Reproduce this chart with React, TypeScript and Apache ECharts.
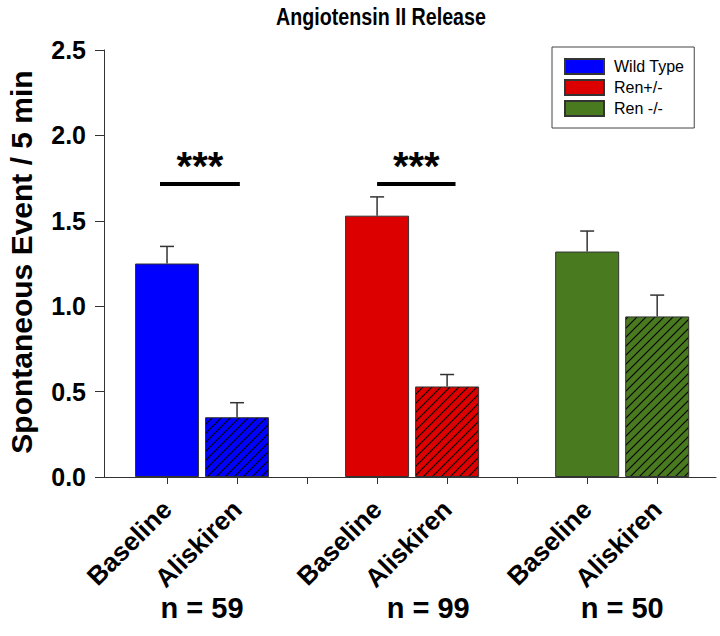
import React, { useEffect, useRef } from "react";
import * as echarts from "echarts";

const groups = ["Wild Type", "Ren+/-", "Ren -/-"];
const groupColors = ["#0000ff", "#dd0000", "#4a7a1f"];
const conditionLabels = ["Baseline", "Aliskiren"];
// x positions of bars (gap positions 3 and 6 are empty)
const barPositions = [
  [1, 2],
  [4, 5],
  [7, 8],
];
const meanValues = [
  [1.25, 0.35],
  [1.53, 0.53],
  [1.32, 0.94],
];
const semValues = [
  [0.1, 0.085],
  [0.11, 0.07],
  [0.12, 0.125],
];
const tickPositions = [1, 2, 3, 4, 5, 6, 7, 8];
const labelPositions = [1, 2, 4, 5, 7, 8];
const yTicks = [0, 0.5, 1.0, 1.5, 2.0, 2.5];
const nLabels = ["n = 59", "n = 99", "n = 50"];
const nPositions = [1.5, 4.73, 7.5];
const sigLines = [
  { x1: 0.9, x2: 2.04, y: 1.715, text: "***" },
  { x1: 4.0, x2: 5.12, y: 1.715, text: "***" },
];

const FONT = '"Liberation Sans", Arial, sans-serif';

function hatch(color: string) {
  const s = 9;
  const c = document.createElement("canvas");
  c.width = s;
  c.height = s;
  const ctx = c.getContext("2d")!;
  ctx.fillStyle = color;
  ctx.fillRect(0, 0, s, s);
  ctx.strokeStyle = "#000";
  ctx.lineWidth = 1.1;
  ctx.beginPath();
  ctx.moveTo(-1, s + 1);
  ctx.lineTo(s + 1, -1);
  ctx.moveTo(-2, 2);
  ctx.lineTo(2, -2);
  ctx.moveTo(s - 2, s + 2);
  ctx.lineTo(s + 2, s - 2);
  ctx.stroke();
  return { image: c, repeat: "repeat" };
}

export default function App() {
  const ref = useRef<HTMLDivElement>(null);
  useEffect(() => {
    document.body.style.margin = "0";
    const chart = echarts.init(ref.current!, null, { renderer: "svg" });

    const barSeries = groups.map((g, gi) => ({
      name: g,
      type: "bar",
      barWidth: 64,
      barGap: "-100%",
      itemStyle: { color: groupColors[gi], borderColor: "#333", borderWidth: 1 },
      data: barPositions[gi].map((x, ci) => ({
        value: [x, meanValues[gi][ci]],
        itemStyle: ci === 1 ? { color: hatch(groupColors[gi]) } : undefined,
      })),
      markLine:
        gi === 0
          ? {
              silent: true,
              symbol: "none",
              lineStyle: { color: "#000", width: 4, type: "solid" },
              label: {
                show: true,
                position: "middle",
                formatter: (p: any) => p.data.name ?? "***",
                fontSize: 40,
                fontWeight: "bold",
                color: "#000",
                fontFamily: FONT,
                distance: -2,
              },
              data: sigLines.map((s) => [
                { coord: [s.x1, s.y], name: s.text },
                { coord: [s.x2, s.y] },
              ]),
            }
          : undefined,
    }));

    const errData: number[][] = [];
    groups.forEach((_, gi) =>
      barPositions[gi].forEach((x, ci) =>
        errData.push([x, meanValues[gi][ci], semValues[gi][ci]])
      )
    );

    const option: any = {
      animation: false,
      grid: { left: 104, right: 4, top: 50, bottom: 159 },
      legend: {
        orient: "vertical",
        left: 552,
        top: 47,
        itemWidth: 39,
        itemHeight: 15,
        itemGap: 4,
        padding: [11, 10, 11, 12],
        borderColor: "#444",
        borderWidth: 1,
        icon: "rect",
        textStyle: { fontSize: 16, fontFamily: FONT, color: "#000", padding: [0, 0, 0, 5] },
        data: groups,
      },
      xAxis: {
        type: "value",
        min: 0.1,
        max: 8.84,
        axisLine: { show: true, lineStyle: { color: "#333", width: 1 } },
        axisTick: { show: true, customValues: tickPositions, length: 7, lineStyle: { color: "#333" } },
        axisLabel: {
          customValues: labelPositions,
          formatter: (v: number) => {
            const idx = barPositions.findIndex((bp) => bp.includes(v));
            if (idx < 0) return "";
            return conditionLabels[barPositions[idx].indexOf(v)];
          },
          rotate: 45,
          margin: 28,
          fontSize: 26,
          fontWeight: "bold",
          fontFamily: FONT,
          color: "#000",
        },
        splitLine: { show: false },
      },
      yAxis: {
        type: "value",
        min: yTicks[0],
        max: yTicks[yTicks.length - 1],
        interval: 0.5,
        axisLine: { show: true, lineStyle: { color: "#333", width: 1 } },
        axisTick: { show: true, length: 9, lineStyle: { color: "#333" } },
        axisLabel: {
          formatter: (v: number) => v.toFixed(1),
          fontSize: 25,
          fontWeight: "bold",
          fontFamily: FONT,
          color: "#000",
          margin: 18,
        },
        splitLine: { show: false },
      },
      series: [
        ...barSeries,
        {
          type: "custom",
          z: 5,
          renderItem: (params: any, api: any) => {
            const x = api.value(0);
            const y = api.value(1);
            const e = api.value(2);
            const p0 = api.coord([x, y]);
            const p1 = api.coord([x, y + e]);
            const style = { stroke: "#333", lineWidth: 1.5 };
            return {
              type: "group",
              children: [
                { type: "line", shape: { x1: p0[0], y1: p0[1], x2: p1[0], y2: p1[1] }, style },
                { type: "line", shape: { x1: p1[0] - 7, y1: p1[1], x2: p1[0] + 7, y2: p1[1] }, style },
              ],
            };
          },
          data: errData,
        },
      ],
      graphic: [
        {
          type: "text",
          x: 381,
          y: 17,
          scaleX: 0.82,
          style: {
            text: "Angiotensin II Release",
            font: `bold 24px ${FONT}`,
            fill: "#000",
            textAlign: "center",
            textVerticalAlign: "middle",
          },
        },
        {
          type: "text",
          x: 21,
          y: 262,
          rotation: Math.PI / 2,
          style: {
            text: "Spontaneous Event / 5 min",
            font: `bold 30px ${FONT}`,
            fill: "#000",
            textAlign: "center",
            textVerticalAlign: "middle",
          },
        },
      ],
    };
    chart.setOption(option);

    const nGraphics = nLabels.map((t, i) => {
      const px = chart.convertToPixel({ gridIndex: 0 }, [nPositions[i], 0]) as number[];
      return {
        type: "text",
        x: px[0],
        y: 608,
        style: {
          text: t,
          font: `bold 29px ${FONT}`,
          fill: "#000",
          textAlign: "center",
          textVerticalAlign: "middle",
        },
      };
    });
    chart.setOption({ graphic: [...option.graphic, ...nGraphics] });

    return () => chart.dispose();
  }, []);
  return <div ref={ref} style={{ width: 720, height: 636 }} />;
}
